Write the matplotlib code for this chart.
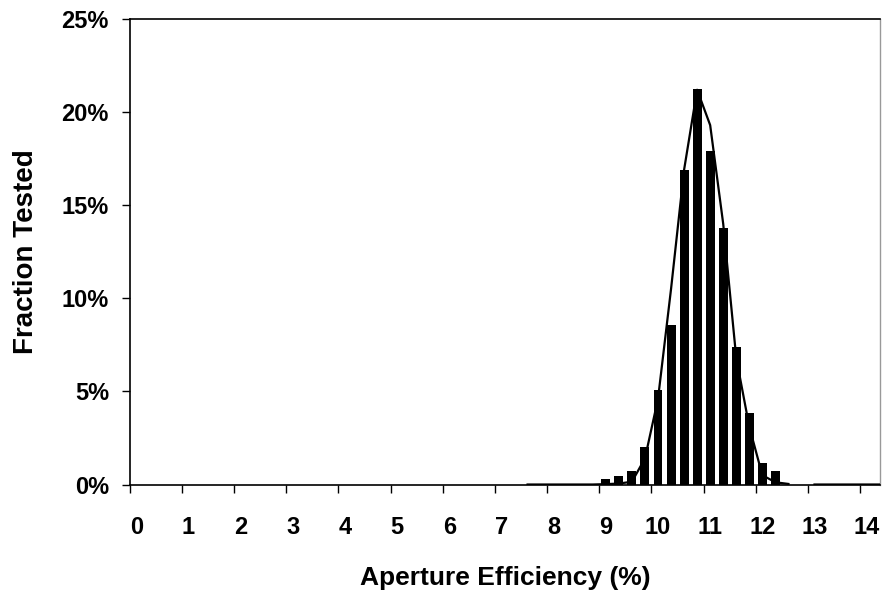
import numpy as np
import matplotlib
matplotlib.use('Agg')
import matplotlib.pyplot as plt
from matplotlib.ticker import FuncFormatter

plt.rcParams['font.family'] = ['Liberation Sans', 'DejaVu Sans']
plt.rcParams['font.weight'] = 'bold'

# histogram of aperture efficiency, bins of 0.25 %
bar_x = [9.0, 9.25, 9.5, 9.75, 10.0, 10.25, 10.5, 10.75, 11.0, 11.25, 11.5, 11.75, 12.0, 12.25]
bar_pct = [0.3, 0.45, 0.7, 2.0, 5.05, 8.55, 16.9, 21.25, 17.9, 13.75, 7.4, 3.85, 1.15, 0.75]

# fitted curve drawn over the bars
fit_x = [7.5, 7.75, 8.0, 8.25, 8.5, 8.75, 9.0, 9.25, 9.5, 9.75, 10.0, 10.25, 10.5, 10.75,
         11.0, 11.25, 11.5, 11.75, 12.0, 12.25, 12.5, 12.75, 13.0, 13.25, 13.5, 13.75, 14.0, 14.25]
fit_pct = [0, 0, 0, 0, 0, 0, 0.02, 0.05, 0.15, 1.4, 4.6, 10.5, 16.9, 21.2,
           19.3, 14.0, 6.8, 3.1, 0.5, 0.12, 0.03, np.nan, 0, 0, 0, 0, 0, 0]

x_labels = list(range(0, 15))

fig = plt.figure(figsize=(8.86, 5.90), dpi=100)
ax = fig.add_axes([0.1465, 0.1788, 0.8467, 0.789])

ax.bar(bar_x, np.array(bar_pct) / 100, width=0.172, color='black', zorder=2)
ax.plot(fit_x, np.array(fit_pct) / 100, color='black', lw=1.6, zorder=3)

ax.set_xlim(-0.125, 14.255)
ax.set_ylim(0, 0.25)

# labels sit on bin centres, tick marks sit on bin edges
ax.set_xticks(x_labels)
ax.set_xticklabels([str(v) for v in x_labels])
ax.set_xticks([v - 0.125 for v in x_labels], minor=True)
ax.tick_params(axis='x', which='major', length=0, pad=23, labelsize=17)
ax.tick_params(axis='x', which='minor', length=6, width=1, direction='out')

ax.set_yticks([0, 0.05, 0.10, 0.15, 0.20, 0.25])
ax.yaxis.set_major_formatter(FuncFormatter(lambda v, p: f'{v * 100:.0f}%'))
ax.tick_params(axis='y', length=6, width=1, direction='out', pad=9, labelsize=17)

for s in ['left', 'bottom', 'top']:
    ax.spines[s].set_linewidth(1.2)
ax.spines['right'].set_color('#999999')
ax.spines['right'].set_linewidth(1)

ax.set_xlabel('Aperture Efficiency (%)', fontsize=19, fontweight='bold', labelpad=19)
ax.set_ylabel('Fraction Tested', fontsize=20, fontweight='bold', labelpad=16)

fig.savefig('out.png', dpi=100)
